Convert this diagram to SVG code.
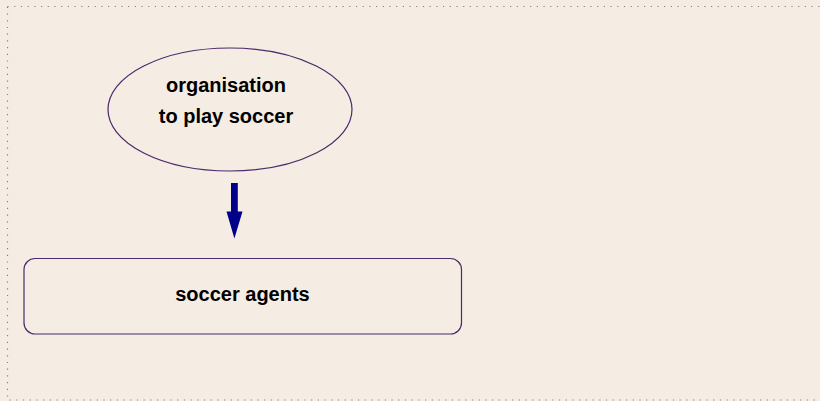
<svg xmlns="http://www.w3.org/2000/svg" width="820" height="401" viewBox="0 0 820 401">
  <defs>
    <style>
      .frame { fill: none; stroke: #85807a; stroke-width: 1.2; stroke-dasharray: 1.2 5.5; }
      .node { fill: none; stroke: #4b2a6a; stroke-width: 1.2; }
      .label { font-family: "Liberation Sans", Arial, sans-serif; font-weight: bold; font-size: 20px; fill: #000; text-anchor: middle; }
      .flow { fill: #00008b; stroke: none; }
    </style>
  </defs>
  <rect x="0" y="0" width="820" height="401" fill="#f5ece3"/>
  <rect class="frame" x="7.5" y="6.5" width="830" height="393.5"/>

  <g id="organisation">
    <ellipse class="node" cx="230" cy="109.5" rx="122" ry="61.5"/>
    <text class="label" x="226" y="92">organisation</text>
    <text class="label" x="226" y="123">to play soccer</text>
  </g>

  <g id="soccer-agents">
    <rect class="node" x="24" y="258.5" width="437.5" height="75.5" rx="11" ry="11"/>
    <text class="label" x="242.5" y="300.5">soccer agents</text>
  </g>

  <g id="connectors">
    <polygon class="flow" points="231,183 237.8,183 237.8,211.5 242.5,211.5 234.4,238.5 226.5,211.5 231,211.5"/>
  </g>
</svg>
